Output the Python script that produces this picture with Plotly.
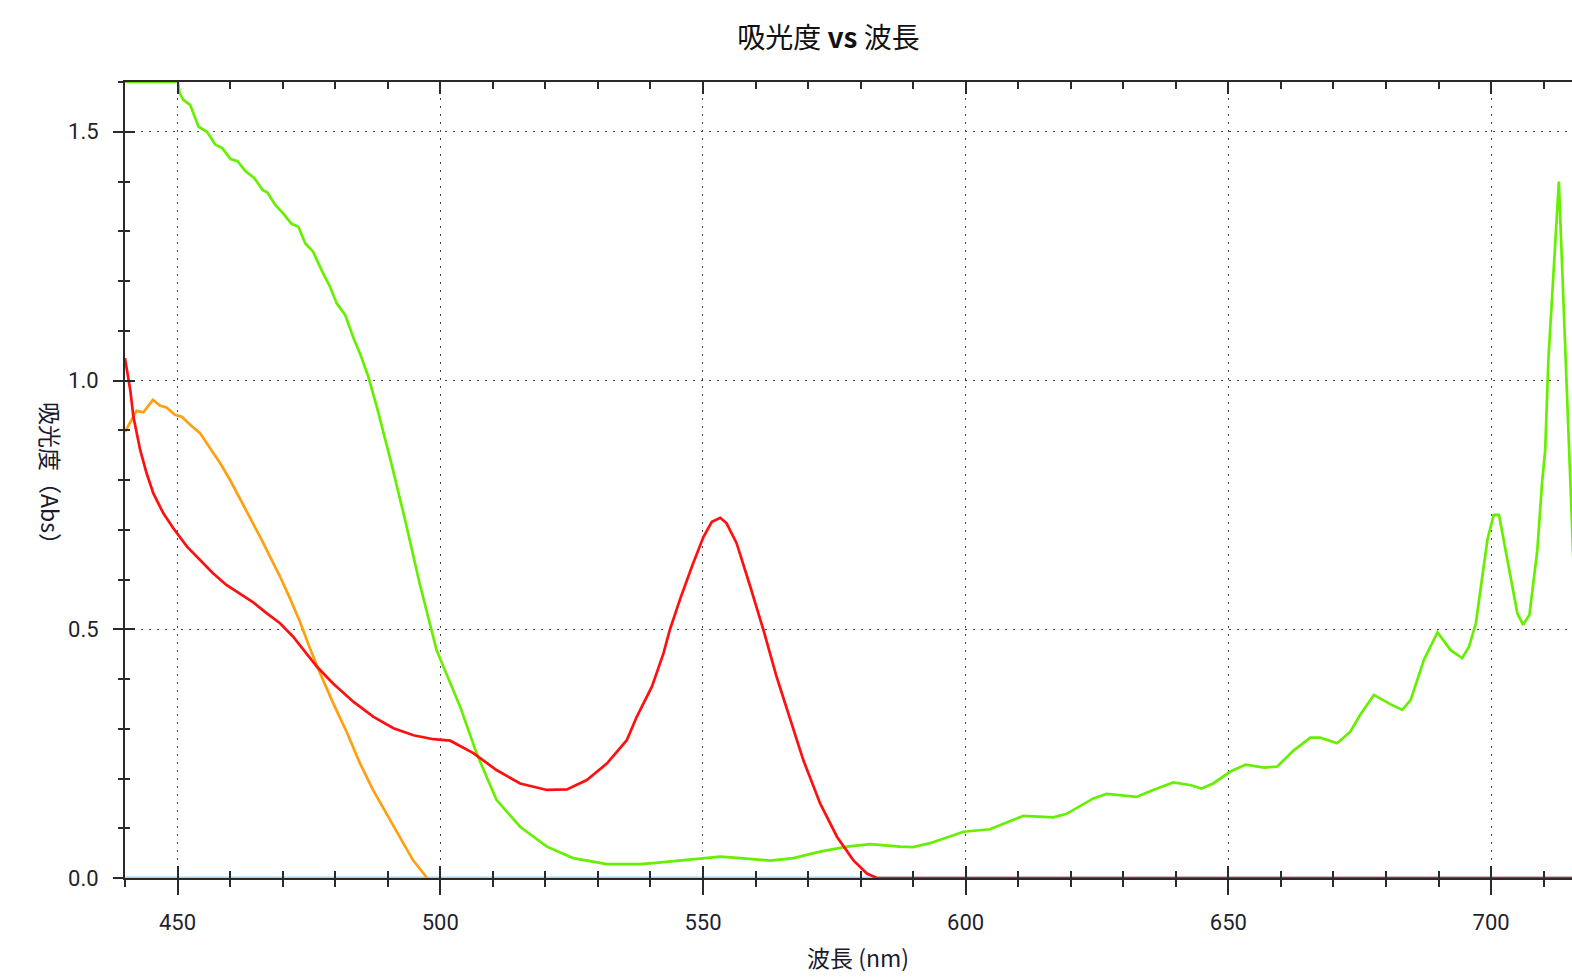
import plotly.graph_objects as go

# ---------------- data ----------------
green_nm = [440.0, 449.9, 450.1, 450.4, 451.1, 452.4, 454.0, 455.6, 457.2, 458.5, 460.1, 461.4,
            463.0, 464.6, 466.2, 467.1, 468.6, 470.1, 471.7, 473.0, 474.3, 475.8, 477.4, 479.0,
            480.3, 481.9, 483.5, 484.7, 486.3, 487.9, 490.4, 493.3, 496.1, 499.3, 503.8, 506.9,
            510.7, 515.2, 520.3, 525.3, 531.7, 538.0, 540.5, 546.9, 553.3, 557.1, 562.8, 567.2,
            572.3, 577.4, 581.8, 587.5, 590.0, 593.2, 599.6, 604.6, 611.0, 616.7, 619.2, 624.3,
            626.8, 632.5, 635.7, 639.5, 642.7, 644.9, 647.1, 650.4, 653.3, 656.8, 659.3, 662.5,
            665.6, 667.5, 670.7, 673.2, 675.1, 677.7, 680.9, 683.1, 684.7, 687.2, 689.8, 692.3,
            694.5, 695.8, 697.1, 699.3, 700.5, 701.5, 703.1, 705.0, 706.1, 707.3, 708.8, 709.7,
            710.3, 710.9, 712.9, 714.2, 714.8, 715.8]
green_abs = [1.60, 1.60, 1.598, 1.578, 1.564, 1.554, 1.51, 1.50, 1.474, 1.467, 1.445, 1.441,
             1.42, 1.407, 1.383, 1.378, 1.353, 1.336, 1.315, 1.309, 1.276, 1.259, 1.222, 1.189,
             1.155, 1.132, 1.085, 1.055, 1.008, 0.948, 0.846, 0.72, 0.591, 0.458, 0.344, 0.251,
             0.157, 0.103, 0.063, 0.040, 0.028, 0.028, 0.030, 0.036, 0.043, 0.040, 0.035, 0.040,
             0.053, 0.063, 0.068, 0.063, 0.062, 0.070, 0.093, 0.098, 0.125, 0.122, 0.129, 0.160,
             0.169, 0.163, 0.177, 0.192, 0.187, 0.180, 0.190, 0.214, 0.228, 0.222, 0.224, 0.257,
             0.282, 0.282, 0.271, 0.294, 0.328, 0.368, 0.349, 0.338, 0.358, 0.438, 0.494, 0.458,
             0.442, 0.465, 0.512, 0.680, 0.730, 0.730, 0.639, 0.532, 0.509, 0.529, 0.659, 0.794,
             0.86, 1.041, 1.40, 1.041, 0.88, 0.60]

orange_nm = [440.0, 442.2, 443.5, 445.3, 446.7, 447.9, 449.5, 450.8, 452.4, 454.3, 456.2, 458.1,
             460.0, 461.9, 463.8, 465.7, 467.6, 469.5, 471.4, 473.3, 475.2, 477.1, 479.6, 482.3,
             484.7, 487.2, 489.9, 492.3, 494.8, 497.5]
orange_abs = [0.897, 0.939, 0.936, 0.961, 0.949, 0.946, 0.931, 0.927, 0.911, 0.894, 0.864, 0.834,
              0.800, 0.763, 0.726, 0.686, 0.646, 0.606, 0.562, 0.515, 0.462, 0.412, 0.352, 0.291,
              0.231, 0.177, 0.127, 0.083, 0.036, 0.0]

red_nm = [440.0, 441.0, 441.6, 442.9, 444.1, 445.4, 447.3, 449.2, 451.8, 454.3, 456.8, 459.3,
          461.9, 464.4, 467.0, 469.5, 472.0, 476.5, 479.6, 483.5, 487.3, 491.1, 494.9, 498.7,
          501.9, 506.3, 510.7, 515.2, 520.3, 524.1, 527.9, 531.7, 535.5, 537.4, 540.3, 542.5,
          543.7, 545.6, 547.9, 550.1, 551.7, 553.3, 554.5, 556.4, 559.0, 561.5, 564.0, 566.6,
          569.1, 572.3, 575.5, 578.6, 581.2, 583.1, 620.0, 680.0, 716.0]
red_abs = [1.045, 0.981, 0.927, 0.860, 0.814, 0.773, 0.733, 0.703, 0.666, 0.639, 0.612, 0.589,
           0.572, 0.554, 0.532, 0.512, 0.485, 0.425, 0.391, 0.354, 0.324, 0.301, 0.287, 0.279,
           0.276, 0.251, 0.217, 0.190, 0.177, 0.178, 0.197, 0.230, 0.277, 0.324, 0.385, 0.452,
           0.499, 0.559, 0.626, 0.686, 0.716, 0.724, 0.713, 0.673, 0.586, 0.499, 0.405, 0.318,
           0.237, 0.150, 0.083, 0.036, 0.009, 0.0, 0.0, 0.0, 0.0]

base_nm = [440.0, 716.0]
base_abs = [0.0, 0.0]

x_ticks = [450, 500, 550, 600, 650, 700]
y_ticks = [0.0, 0.5, 1.0, 1.5]

X_RANGE = [440.0, 715.4]
Y_RANGE = [0.0, 1.6]

# ---------------- figure ----------------
TICK_FONT = dict(family="Liberation Sans Narrow, Arial Narrow, Roboto, sans-serif",
                 size=22, color="#1f1f2e")
AX_COL = "#2a2a2a"
LW = 2.7

fig = go.Figure()
fig.add_trace(go.Scatter(x=base_nm, y=base_abs, mode="lines",
                         line=dict(color="#9fd3f5", width=3), showlegend=False, hoverinfo="skip"))
fig.add_trace(go.Scatter(x=orange_nm, y=orange_abs, mode="lines",
                         line=dict(color="#ffa010", width=LW), showlegend=False, name="orange"))
fig.add_trace(go.Scatter(x=green_nm, y=green_abs, mode="lines",
                         line=dict(color="#66f000", width=LW), showlegend=False, name="green"))
fig.add_trace(go.Scatter(x=red_nm, y=red_abs, mode="lines",
                         line=dict(color="#ff1010", width=LW), showlegend=False, name="red"))
# empty trace to anchor the overlay axes (inside ticks)
fig.add_trace(go.Scatter(x=[], y=[], xaxis="x2", yaxis="y2", showlegend=False))

fig.update_layout(
    width=1572, height=979,
    margin=dict(l=125, r=0, t=82, b=101),
    paper_bgcolor="white", plot_bgcolor="white",
    showlegend=False,
    title=dict(text="吸光度 <b>vs</b> 波長", x=0.527, xref="container", xanchor="center",
               y=1 - 38 / 979, yref="container", yanchor="middle",
               font=dict(family="Noto Sans CJK JP, sans-serif", size=28, color="#111")),
    xaxis=dict(range=X_RANGE, tickvals=x_ticks, ticks="outside", ticklen=15, tickwidth=1.5,
               tickcolor=AX_COL, showline=True, linecolor=AX_COL, linewidth=2, mirror=True,
               showgrid=True, gridcolor="#444", gridwidth=1, griddash="2px,6px",
               zeroline=False, tickfont=TICK_FONT, ticklabelstandoff=9,
               minor=dict(dtick=10, tick0=440, ticks="outside", ticklen=7, tickwidth=1.5,
                          tickcolor=AX_COL, showgrid=False)),
    yaxis=dict(range=Y_RANGE, tickvals=y_ticks, tickformat=".1f", ticks="outside", ticklen=10,
               tickwidth=1.5, tickcolor=AX_COL, showline=True, linecolor=AX_COL, linewidth=2,
               showgrid=True, gridcolor="#444", gridwidth=1, griddash="2px,6px",
               zeroline=False, tickfont=TICK_FONT, ticklabelstandoff=10,
               minor=dict(dtick=0.1, tick0=0, ticks="outside", ticklen=5, tickwidth=1.5,
                          tickcolor=AX_COL, showgrid=False)),
    xaxis2=dict(range=X_RANGE, overlaying="x", anchor="y2", tickvals=x_ticks, ticks="inside",
                ticklen=12, tickwidth=1.5, tickcolor=AX_COL, mirror="ticks", showline=False,
                showgrid=False, zeroline=False, showticklabels=False,
                minor=dict(dtick=10, tick0=440, ticks="inside", ticklen=7, tickwidth=1.5,
                           tickcolor=AX_COL, showgrid=False)),
    yaxis2=dict(range=Y_RANGE, overlaying="y", anchor="x2", side="left", tickvals=y_ticks,
                ticks="inside", ticklen=10, tickwidth=1.5, tickcolor=AX_COL, showline=False,
                showgrid=False, zeroline=False, showticklabels=False,
                minor=dict(dtick=0.1, tick0=0, ticks="inside", ticklen=5, tickwidth=1.5,
                           tickcolor=AX_COL, showgrid=False)),
    annotations=[
        dict(text="波長 (nm)", xref="paper", yref="paper", x=(858 - 125) / 1447,
             y=(878 - 957) / 796, xanchor="center", yanchor="middle", showarrow=False,
             font=dict(family="Noto Sans CJK JP, Roboto, sans-serif", size=23,
                       color="#1a1a2e")),
        dict(text="吸光度（Abs）", xref="paper", yref="paper", x=(51 - 125) / 1447,
             y=(878 - 479) / 796, xanchor="center", yanchor="middle", showarrow=False,
             textangle=90,
             font=dict(family="Noto Sans CJK JP, sans-serif", size=23, color="#1a1a2e")),
    ],
)

fig.write_html(
    "out.html",
    config={"displayModeBar": False},
    post_script="document.body.style.margin='0';document.body.style.overflow='hidden';",
)
